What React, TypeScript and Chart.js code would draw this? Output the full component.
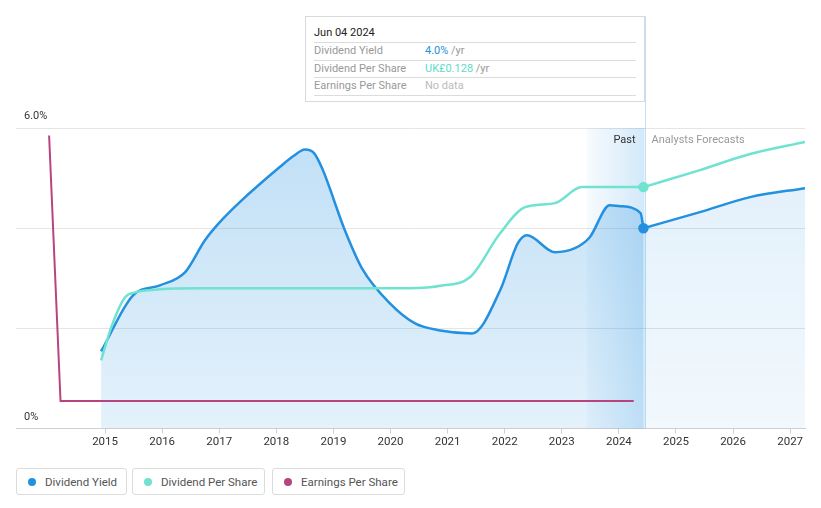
import React, { useEffect, useRef } from 'react';
import { Chart, registerables } from 'chart.js';

Chart.register(...registerables);

// ---- data ----
const YEARS = [2015, 2016, 2017, 2018, 2019, 2020, 2021, 2022, 2023, 2024, 2025, 2026, 2027];
const X_MIN = 2013.44;
const X_MAX = 2027.26;
const Y_MAX = 6;
const Y_LABELS = [
  { value: 6, text: '6.0%' },
  { value: 0, text: '0%' },
];
const PAST_START = 2023.44;
const FORECAST_START = 2024.45;

const DY_PAST_X = [2014.93, 2015.49, 2015.96, 2016.4, 2016.75, 2017.01, 2017.36, 2018.06, 2018.3, 2018.5, 2018.66, 2018.8, 2019.2, 2019.5, 2019.99, 2020.43, 2020.87, 2021.43, 2021.92, 2022.23, 2022.39, 2022.88, 2023.23, 2023.49, 2023.84, 2024.02, 2024.38, 2024.43];
const DY_PAST_Y = [1.54, 2.66, 2.86, 3.12, 3.76, 4.12, 4.52, 5.22, 5.44, 5.57, 5.5, 5.2, 3.96, 3.2, 2.5, 2.1, 1.96, 1.9, 2.76, 3.7, 3.86, 3.52, 3.6, 3.82, 4.46, 4.44, 4.3, 4.0];
const DY_FC_X = [2024.43, 2025.42, 2026.3, 2027.26];
const DY_FC_Y = [4.0, 4.32, 4.62, 4.8];

const DPS_PAST_X = [2014.93, 2015.12, 2015.35, 2015.53, 2015.96, 2016.66, 2020.17, 2020.69, 2020.87, 2021.39, 2021.92, 2022.36, 2022.88, 2023.35, 2024.43];
const DPS_PAST_Y = [1.36, 2.06, 2.62, 2.72, 2.78, 2.8, 2.8, 2.82, 2.85, 3.02, 3.9, 4.42, 4.5, 4.82, 4.82];
const DPS_FC_X = [2024.43, 2025.42, 2026.3, 2027.26];
const DPS_FC_Y = [4.82, 5.16, 5.48, 5.72];

const EPS_X = [2014.02, 2014.22, 2024.26];
const EPS_Y = [5.85, 0.55, 0.55];

const BLUE = '#2390e0';
const TEAL = '#6fe3d0';
const MAGENTA = '#b8447f';

const pts = (xs: number[], ys: number[]) => xs.map((x, i) => ({ x, y: ys[i] }));

const vGrad = (top: number, bottom: number) => (ctx: any) => {
  const chart = ctx.chart;
  const area = chart.chartArea;
  if (!area) return 'rgba(35,144,224,0.2)';
  const g = chart.ctx.createLinearGradient(0, area.top, 0, area.bottom);
  g.addColorStop(0, `rgba(35,144,224,${top})`);
  g.addColorStop(1, `rgba(35,144,224,${bottom})`);
  return g;
};

const overlay = {
  id: 'overlay',
  beforeDatasetsDraw(chart: any) {
    const { ctx, chartArea, scales } = chart;
    const x = scales.x;
    const y = scales.y;
    const x0 = x.getPixelForValue(PAST_START);
    const x1 = x.getPixelForValue(FORECAST_START);
    ctx.save();
    const g = ctx.createLinearGradient(x0, 0, x1, 0);
    g.addColorStop(0, 'rgba(35,144,224,0.04)');
    g.addColorStop(1, 'rgba(35,144,224,0.2)');
    ctx.fillStyle = g;
    ctx.fillRect(x0, chartArea.top, x1 - x0, chartArea.bottom - chartArea.top);
    ctx.strokeStyle = 'rgba(35,144,224,0.28)';
    ctx.lineWidth = 1;
    ctx.beginPath();
    const lx = Math.round(x1) + 0.5;
    ctx.moveTo(lx, 16);
    ctx.lineTo(lx, chartArea.bottom);
    ctx.stroke();

    ctx.font = '11px Roboto';
    ctx.textBaseline = 'middle';
    ctx.textAlign = 'right';
    ctx.fillStyle = '#333';
    ctx.fillText('Past', x1 - 9, chartArea.top + 12);
    ctx.textAlign = 'left';
    ctx.fillStyle = '#999';
    ctx.fillText('Analysts Forecasts', x1 + 7, chartArea.top + 12);

    ctx.fillStyle = '#333';
    ctx.textAlign = 'left';
    Y_LABELS.forEach((l) => {
      ctx.fillText(l.text, 24, y.getPixelForValue(l.value) - 11.5);
    });
    ctx.restore();
  },
};

const LEGEND = [
  { label: 'Dividend Yield', color: BLUE, left: 16, width: 111 },
  { label: 'Dividend Per Share', color: TEAL, left: 132, width: 133 },
  { label: 'Earnings Per Share', color: MAGENTA, left: 272, width: 133 },
];

const TIP_ROWS = [
  { label: 'Dividend Yield', value: '4.0%', color: BLUE, unit: ' /yr' },
  { label: 'Dividend Per Share', value: 'UK£0.128', color: '#5fdcc8', unit: ' /yr' },
  { label: 'Earnings Per Share', value: 'No data', color: '#bbb', unit: '' },
];

export default function App() {
  const ref = useRef<HTMLCanvasElement | null>(null);

  useEffect(() => {
    if (!ref.current) return;
    const chart = new Chart(ref.current, {
      type: 'line',
      data: {
        datasets: [
          {
            data: pts(EPS_X, EPS_Y),
            borderColor: MAGENTA,
            borderWidth: 2,
            tension: 0,
            pointRadius: 0,
            fill: false,
          },
          {
            data: pts(DPS_FC_X, DPS_FC_Y),
            borderColor: TEAL,
            borderWidth: 2.5,
            cubicInterpolationMode: 'monotone',
            pointRadius: DPS_FC_X.map((_, i) => (i === 0 ? 4 : 0)),
            pointBackgroundColor: TEAL,
            pointBorderColor: TEAL,
            fill: false,
          },
          {
            data: pts(DPS_PAST_X, DPS_PAST_Y),
            borderColor: TEAL,
            borderWidth: 2.5,
            cubicInterpolationMode: 'monotone',
            pointRadius: 0,
            fill: false,
          },
          {
            data: pts(DY_FC_X, DY_FC_Y),
            borderColor: BLUE,
            borderWidth: 2.5,
            cubicInterpolationMode: 'monotone',
            pointRadius: DY_FC_X.map((_, i) => (i === 0 ? 4 : 0)),
            pointBackgroundColor: BLUE,
            pointBorderColor: BLUE,
            fill: 'origin',
            backgroundColor: vGrad(0.14, 0.06),
          },
          {
            data: pts(DY_PAST_X, DY_PAST_Y),
            borderColor: BLUE,
            borderWidth: 2.5,
            cubicInterpolationMode: 'monotone',
            pointRadius: 0,
            fill: 'origin',
            backgroundColor: vGrad(0.29, 0.12),
          },
        ],
      },
      options: {
        animation: false,
        responsive: false,
        maintainAspectRatio: false,
        layout: { padding: { left: 16, right: 16, top: 128, bottom: 8.6 } },
        plugins: { legend: { display: false }, tooltip: { enabled: false } },
        scales: {
          x: {
            type: 'linear',
            min: X_MIN,
            max: X_MAX,
            afterBuildTicks: (axis: any) => {
              axis.ticks = YEARS.map((v) => ({ value: v }));
            },
            ticks: {
              autoSkip: false,
              maxRotation: 0,
              padding: 2,
              color: '#333',
              font: { family: 'Roboto', size: 11.5 },
              callback: (v: any) => String(v),
            },
            grid: { drawOnChartArea: false, drawTicks: true, tickLength: 5, color: '#cfcfcf' },
            border: { display: true, color: '#cfcfcf' },
          },
          y: {
            min: 0,
            max: Y_MAX,
            ticks: { display: false, stepSize: 2 },
            grid: { color: '#e5e5e5', drawTicks: false },
            border: { display: false },
          },
        },
      },
      plugins: [overlay],
    } as any);
    return () => chart.destroy();
  }, []);

  return (
    <div style={{ position: 'fixed', left: 0, top: 0, width: 821, height: 508, background: '#fff', fontFamily: 'Roboto, sans-serif' }}>
      <canvas ref={ref} width={821} height={460} style={{ position: 'absolute', left: 0, top: 0, width: 821, height: 460 }} />
      <div
        style={{
          position: 'absolute',
          left: 305,
          top: 16,
          width: 340,
          height: 86,
          boxSizing: 'border-box',
          background: '#fff',
          border: '1px solid #d9d9d9',
          fontSize: 11,
        }}
      >
        <div style={{ position: 'absolute', left: 8, top: 9, lineHeight: '14px', color: '#222' }}>Jun 04 2024</div>
        {TIP_ROWS.map((r, i) => (
          <div
            key={r.label}
            style={{
              position: 'absolute',
              left: 8,
              right: 8,
              top: 25 + i * 17.5,
              height: 17,
              borderTop: '1px solid #dcdcdc',
              borderBottom: i === 2 ? '1px solid #dcdcdc' : 'none',
              lineHeight: '16px',
            }}
          >
            <span style={{ position: 'absolute', left: 0, color: '#999' }}>{r.label}</span>
            <span style={{ position: 'absolute', left: 111 }}>
              <span style={{ color: r.color }}>{r.value}</span>
              <span style={{ color: '#999' }}>{r.unit}</span>
            </span>
          </div>
        ))}
      </div>
      {LEGEND.map((l) => (
        <div
          key={l.label}
          style={{
            position: 'absolute',
            left: l.left,
            top: 468,
            width: l.width,
            height: 27,
            boxSizing: 'border-box',
            border: '1px solid #dcdcdc',
            borderRadius: 3,
            display: 'flex',
            alignItems: 'center',
            paddingLeft: 11,
            fontSize: 11.5,
            whiteSpace: 'nowrap',
            color: '#555',
          }}
        >
          <span style={{ width: 8, height: 8, borderRadius: 4, background: l.color, marginRight: 9, flex: 'none' }} />
          {l.label}
        </div>
      ))}
    </div>
  );
}
